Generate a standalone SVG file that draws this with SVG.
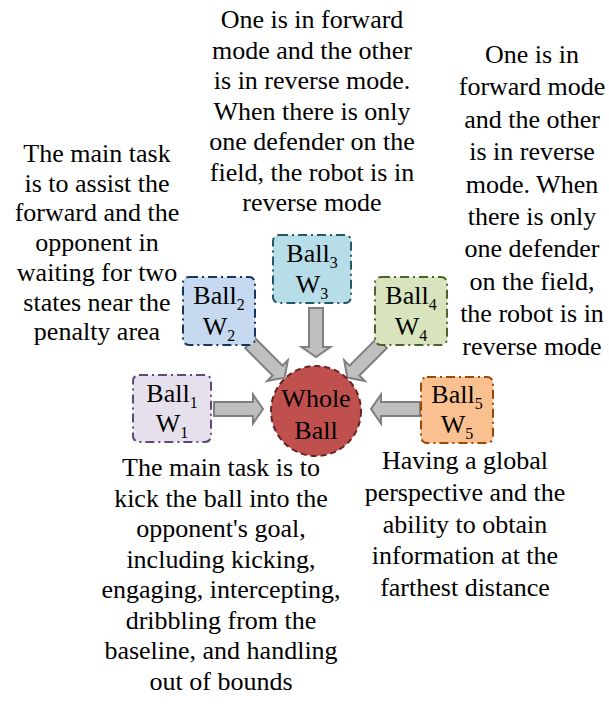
<svg xmlns="http://www.w3.org/2000/svg" width="609" height="711" viewBox="0 0 609 711">
  <style>
    text { font-family: 'Times New Roman'; font-size: 26px; fill: #000; text-anchor: middle; }
    .sub { font-size: 16px; }
    .box { stroke-width: 2; stroke-dasharray: 9 4 2 4; }
    .arrow { fill: #bfbfbf; stroke: #7f7f7f; stroke-width: 2; stroke-linejoin: miter; }
  </style>
  <defs>
    <!-- block arrow pointing along +x, tail at origin -->
    <polygon id="blockArrow" class="arrow" points="0,-7 39,-7 39,-14.5 49,0 39,14.5 39,7 0,7"/>
  </defs>
  <rect width="609" height="711" fill="#ffffff"/>

  <!-- descriptive texts -->
  <g id="desc-top" font-family="Times New Roman">
    <text x="312" y="28">One is in forward</text>
    <text x="312" y="58.5">mode and the other</text>
    <text x="312" y="89">is in reverse mode.</text>
    <text x="312" y="119.5">When there is only</text>
    <text x="312" y="150">one defender on the</text>
    <text x="312" y="180.5">field, the robot is in</text>
    <text x="312" y="211">reverse mode</text>
  </g>
  <g id="desc-left" font-family="Times New Roman">
    <text x="97" y="162">The main task</text>
    <text x="97" y="191.7">is to assist the</text>
    <text x="97" y="221.4">forward and the</text>
    <text x="97" y="251.1">opponent in</text>
    <text x="97" y="280.8">waiting for two</text>
    <text x="97" y="310.5">states near the</text>
    <text x="97" y="340.2">penalty area</text>
  </g>
  <g id="desc-right" font-family="Times New Roman">
    <text x="532" y="63">One is in</text>
    <text x="532" y="95.4">forward mode</text>
    <text x="532" y="127.8">and the other</text>
    <text x="532" y="160.2">is in reverse</text>
    <text x="532" y="192.6">mode. When</text>
    <text x="532" y="225">there is only</text>
    <text x="532" y="257.4">one defender</text>
    <text x="532" y="289.8">on the field,</text>
    <text x="532" y="322.2">the robot is in</text>
    <text x="532" y="354.6">reverse mode</text>
  </g>
  <g id="desc-bottom-left" font-family="Times New Roman">
    <text x="221" y="476">The main task is to</text>
    <text x="221" y="506.5">kick the ball into the</text>
    <text x="221" y="537">opponent's goal,</text>
    <text x="221" y="567.5">including kicking,</text>
    <text x="221" y="598">engaging, intercepting,</text>
    <text x="221" y="628.5">dribbling from the</text>
    <text x="221" y="659">baseline, and handling</text>
    <text x="221" y="689.5">out of bounds</text>
  </g>
  <g id="desc-bottom-right" font-family="Times New Roman">
    <text x="465" y="469">Having a global</text>
    <text x="465" y="500.8">perspective and the</text>
    <text x="465" y="532.6">ability to obtain</text>
    <text x="465" y="564.4">information at the</text>
    <text x="465" y="596.2">farthest distance</text>
  </g>

  <!-- connectors -->
  <g id="connectors">
    <use href="#blockArrow" transform="translate(214,409)"/>
    <use href="#blockArrow" transform="translate(250,343) rotate(45)"/>
    <use href="#blockArrow" transform="translate(316,308) rotate(90)"/>
    <use href="#blockArrow" transform="translate(382,343) rotate(135)"/>
    <use href="#blockArrow" transform="translate(420,409) rotate(180)"/>
  </g>

  <!-- nodes -->
  <g id="ball1" font-family="Times New Roman">
    <rect class="box" x="133" y="375" width="78" height="67" rx="6" fill="#e6e0ec" stroke="#5f497a"/>
    <text x="172" y="402">Ball<tspan class="sub" dy="6">1</tspan></text>
    <text x="172" y="432">W<tspan class="sub" dy="6">1</tspan></text>
  </g>
  <g id="ball2" font-family="Times New Roman">
    <rect class="box" x="183" y="277" width="72" height="68" rx="6" fill="#c6d9f1" stroke="#17375e"/>
    <text x="219" y="304">Ball<tspan class="sub" dy="6">2</tspan></text>
    <text x="219" y="335">W<tspan class="sub" dy="6">2</tspan></text>
  </g>
  <g id="ball3" font-family="Times New Roman">
    <rect class="box" x="273" y="235" width="78" height="68" rx="6" fill="#b7dde8" stroke="#215968"/>
    <text x="312" y="262">Ball<tspan class="sub" dy="6">3</tspan></text>
    <text x="312" y="293">W<tspan class="sub" dy="6">3</tspan></text>
  </g>
  <g id="ball4" font-family="Times New Roman">
    <rect class="box" x="375" y="277" width="72" height="68" rx="6" fill="#d7e4bd" stroke="#4f6228"/>
    <text x="411" y="304">Ball<tspan class="sub" dy="6">4</tspan></text>
    <text x="411" y="335">W<tspan class="sub" dy="6">4</tspan></text>
  </g>
  <g id="ball5" font-family="Times New Roman">
    <rect class="box" x="421" y="377" width="72" height="66" rx="6" fill="#fac090" stroke="#984807"/>
    <text x="457" y="403">Ball<tspan class="sub" dy="6">5</tspan></text>
    <text x="457" y="433">W<tspan class="sub" dy="6">5</tspan></text>
  </g>
  <g id="whole-ball" font-family="Times New Roman">
    <circle cx="316" cy="411" r="45" fill="#c0504d" stroke="#632523" stroke-width="2" stroke-dasharray="6 4"/>
    <text x="316" y="407">Whole</text>
    <text x="316" y="439">Ball</text>
  </g>
</svg>
